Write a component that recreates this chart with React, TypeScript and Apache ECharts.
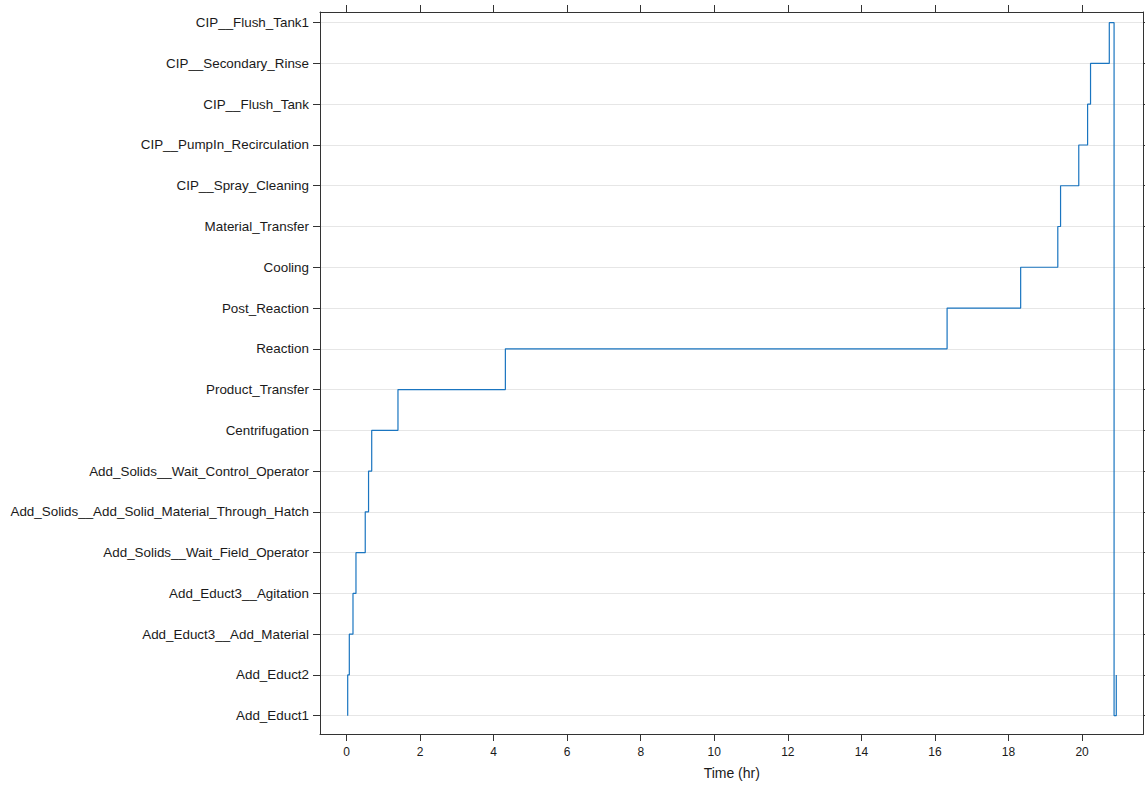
import React, { useEffect, useRef } from "react";
import * as echarts from "echarts";

const categories = [
  "Add_Educt1",
  "Add_Educt2",
  "Add_Educt3__Add_Material",
  "Add_Educt3__Agitation",
  "Add_Solids__Wait_Field_Operator",
  "Add_Solids__Add_Solid_Material_Through_Hatch",
  "Add_Solids__Wait_Control_Operator",
  "Centrifugation",
  "Product_Transfer",
  "Reaction",
  "Post_Reaction",
  "Cooling",
  "Material_Transfer",
  "CIP__Spray_Cleaning",
  "CIP__PumpIn_Recirculation",
  "CIP__Flush_Tank",
  "CIP__Secondary_Rinse",
  "CIP__Flush_Tank1",
];

// step end times (hr) and the step index (1-based) of each point
const times = [
  0.033, 0.077, 0.177, 0.258, 0.51, 0.6, 0.686, 1.4, 4.32, 16.33, 18.33, 19.34,
  19.415, 19.91, 20.15, 20.23, 20.74, 20.87, 20.93, 20.93,
];
const levels = [1, 2, 3, 4, 5, 6, 7, 8, 9, 10, 11, 12, 13, 14, 15, 16, 17, 18, 1, 2];

const xTicks = [0, 2, 4, 6, 8, 10, 12, 14, 16, 18, 20];
const yTicks = categories.map((_, i) => i + 1);

const X_MIN = -0.72;
const X_MAX = 21.67;
const Y_MIN = 0.551;
const Y_MAX = 18.262;

const AXIS_COLOR = "#333333";
const TEXT_COLOR = "#1a1a1a";
const FONT = "'Liberation Sans', Arial, sans-serif";

export default function App() {
  const ref = useRef<HTMLDivElement>(null);

  useEffect(() => {
    if (!ref.current) return;
    const chart = echarts.init(ref.current, null, { renderer: "svg" });
    const data = times.map((t, i) => [t, levels[i]]);

    const axisLine = {
      show: true,
      onZero: false,
      lineStyle: { color: AXIS_COLOR, width: 1 },
    };
    const tick = (vals: number[]) => ({
      show: true,
      inside: false,
      length: 7,
      lineStyle: { color: AXIS_COLOR, width: 1 },
      customValues: vals,
    });

    chart.setOption({
      animation: false,
      backgroundColor: "#ffffff",
      textStyle: { fontFamily: FONT },
      grid: { left: 320, top: 12, right: 1.5, bottom: 53, containLabel: false },
      xAxis: [
        {
          type: "value",
          position: "bottom",
          min: X_MIN,
          max: X_MAX,
          name: "Time (hr)",
          nameLocation: "middle",
          nameGap: 32,
          nameTextStyle: { fontSize: 14, color: TEXT_COLOR, fontFamily: FONT },
          axisLine,
          axisTick: tick(xTicks),
          axisLabel: {
            customValues: xTicks,
            fontSize: 12,
            color: TEXT_COLOR,
            fontFamily: FONT,
            margin: 12,
          },
          splitLine: { show: false },
        },
        {
          type: "value",
          position: "top",
          min: X_MIN,
          max: X_MAX,
          axisLine,
          axisTick: tick(xTicks),
          axisLabel: { show: false, customValues: xTicks },
          splitLine: { show: false },
        },
      ],
      yAxis: [
        {
          type: "value",
          position: "left",
          min: Y_MIN,
          max: Y_MAX,
          axisLine,
          axisTick: tick(yTicks),
          axisLabel: {
            customValues: yTicks,
            fontSize: 13.4,
            color: TEXT_COLOR,
            fontFamily: FONT,
            margin: 11,
            formatter: (v: number) => categories[Math.round(v) - 1] ?? "",
          },
          splitLine: {
            show: true,
            lineStyle: { color: "#e6e6e6", width: 1 },
          },
        },
        {
          type: "value",
          position: "right",
          min: Y_MIN,
          max: Y_MAX,
          axisLine,
          axisTick: tick(yTicks),
          axisLabel: { show: false, customValues: yTicks },
          splitLine: { show: false },
        },
      ],
      series: [
        {
          type: "line",
          xAxisIndex: 0,
          yAxisIndex: 0,
          data,
          step: "start",
          symbol: "none",
          lineStyle: { color: "#1a75c0", width: 1.2 },
          z: 5,
        },
      ],
    });

    return () => chart.dispose();
  }, []);

  return (
    <div
      ref={ref}
      style={{ position: "fixed", left: 0, top: 0, width: 1145, height: 787 }}
    />
  );
}
